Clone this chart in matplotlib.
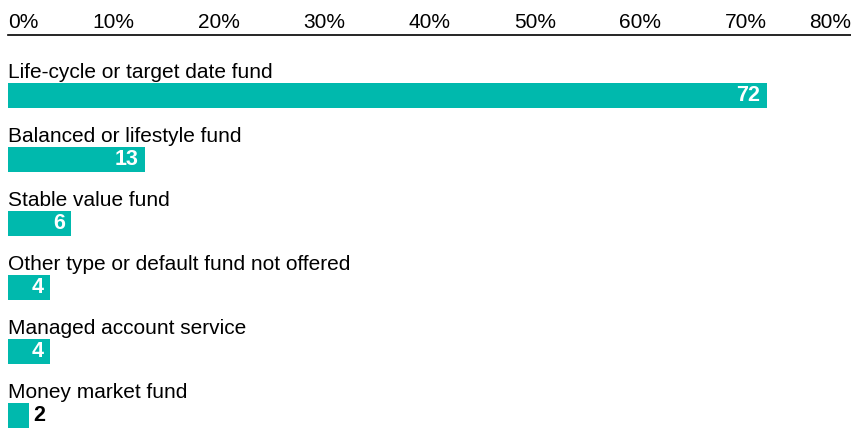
import matplotlib.pyplot as plt

categories = ["Life-cycle or target date fund", "Balanced or lifestyle fund",
              "Stable value fund", "Other type or default fund not offered",
              "Managed account service", "Money market fund"]
values = [72, 13, 6, 4, 4, 2]
ticks = [0, 10, 20, 30, 40, 50, 60, 70, 80]
tick_labels = ["0%", "10%", "20%", "30%", "40%", "50%", "60%", "70%", "80%"]

teal = "#00b9ad"
plt.rcParams['font.family'] = ['Liberation Sans', 'DejaVu Sans']

W, H = 851, 430
fig = plt.figure(figsize=(W / 100, H / 100), dpi=100)
ax = fig.add_axes([8 / W, 0, 843 / W, 395 / H])

bar_h = 25 / 64
for i, (cat, v) in enumerate(zip(categories, values)):
    ax.barh(i, v, height=bar_h, color=teal)
    ax.text(0, i - bar_h / 2 - 0.075, cat, fontsize=15, va='baseline', ha='left')
    if v >= 4:
        ax.text(v - 0.6, i, str(v), color='white', fontsize=15.5, fontweight='bold',
                va='center', ha='right')
    else:
        ax.text(v + 0.4, i, str(v), color='black', fontsize=15.5, fontweight='bold',
                va='center', ha='left')

ax.set_xlim(0, 80)
ax.set_ylim((430 - 95.5) / 64, (35 - 95.5) / 64)

ax.xaxis.tick_top()
ax.set_xticks(ticks)
ax.set_xticklabels(tick_labels, fontsize=15)
ax.tick_params(axis='x', length=0, pad=2)
labels = ax.get_xticklabels()
labels[0].set_ha('left')
labels[-1].set_ha('right')
ax.set_yticks([])
for side in ['bottom', 'left', 'right']:
    ax.spines[side].set_visible(False)
ax.spines['top'].set_linewidth(1.2)

fig.savefig("out.png", dpi=100)
